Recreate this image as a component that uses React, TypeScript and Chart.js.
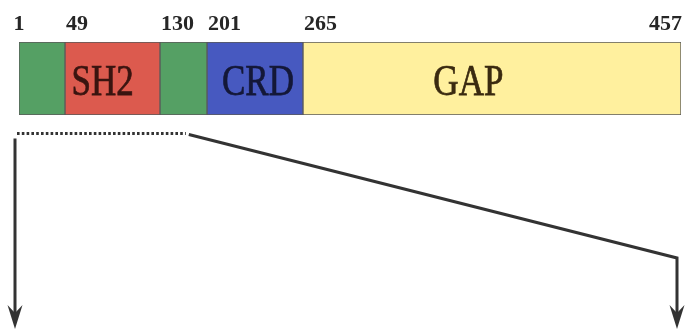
import React, { useEffect, useRef } from 'react';
import { Chart, registerables, LinearScale } from 'chart.js';

Chart.register(...registerables);

// ---- data ----
const residueBoundaries = [1, 49, 130, 201, 265, 457];
const tickLabels = ['1', '49', '130', '201', '265', '457'];
const domainNames = ['', 'SH2', '', 'CRD', 'GAP'];
const domainColors = ['#55a064', '#dc5a4e', '#55a064', '#4759c0', '#fff09e'];
const domainTextColors = ['#222', '#3a1410', '#222', '#141838', '#3a2a10'];
const domainLabelAt = [0, 81, 0, 235, 349];
const zoomRange = [1, 169];

// drawn (non-proportional) relative widths of each segment in the diagram
const segmentDrawWidths = [46, 95, 47, 96, 378];
const totalDraw = segmentDrawWidths.reduce((a, b) => a + b, 0);

const SERIF = '"Liberation Serif", "Times New Roman", Times, serif';

class PiecewiseScale extends LinearScale {
  static id = 'piecewise';
  static defaults = LinearScale.defaults;
  getPixelForValue(value: number) {
    const b = residueBoundaries;
    if (value <= b[0]) return this.getPixelForDecimal(0);
    let acc = 0;
    for (let i = 0; i < segmentDrawWidths.length; i++) {
      if (value <= b[i + 1]) {
        const f = (acc + ((value - b[i]) / (b[i + 1] - b[i])) * segmentDrawWidths[i]) / totalDraw;
        return this.getPixelForDecimal(f);
      }
      acc += segmentDrawWidths[i];
    }
    return this.getPixelForDecimal(1);
  }
  getValueForPixel(pixel: number) {
    const d = this.getDecimalForPixel(pixel) * totalDraw;
    let acc = 0;
    const b = residueBoundaries;
    for (let i = 0; i < segmentDrawWidths.length; i++) {
      if (d <= acc + segmentDrawWidths[i]) {
        return b[i] + ((d - acc) / segmentDrawWidths[i]) * (b[i + 1] - b[i]);
      }
      acc += segmentDrawWidths[i];
    }
    return b[b.length - 1];
  }
}
Chart.register(PiecewiseScale as any);

function arrowHead(ctx: CanvasRenderingContext2D, x: number, tipY: number) {
  ctx.beginPath();
  ctx.moveTo(x, tipY);
  ctx.lineTo(x - 7.5, tipY - 24);
  ctx.lineTo(x, tipY - 16);
  ctx.lineTo(x + 7.5, tipY - 24);
  ctx.closePath();
  ctx.fill();
}

const overlayPlugin = {
  id: 'overlay',
  afterDatasetsDraw(chart: any) {
    const ctx: CanvasRenderingContext2D = chart.ctx;
    const xs = chart.scales.x;
    const area = chart.chartArea;
    ctx.save();

    // residue labels
    ctx.font = 'bold 22px ' + SERIF;
    ctx.fillStyle = '#262626';
    ctx.textBaseline = 'alphabetic';
    residueBoundaries.forEach((r, i) => {
      const px = xs.getPixelForValue(r);
      const last = i === residueBoundaries.length - 1;
      ctx.textAlign = i === 0 ? 'center' : last ? 'right' : 'left';
      const dx = i === 0 ? 0 : 1;
      ctx.fillText(tickLabels[i], px + dx, area.top - 12);
    });

    // domain names (vertically stretched serif like the reference)
    ctx.font = '35px ' + SERIF;
    ctx.textAlign = 'center';
    domainNames.forEach((name, i) => {
      if (!name) return;
      const px = xs.getPixelForValue(domainLabelAt[i]);
      ctx.save();
      ctx.translate(px, area.top + 53);
      ctx.scale(1, 1.25);
      ctx.fillStyle = domainTextColors[i];
      ctx.strokeStyle = domainTextColors[i];
      ctx.lineWidth = 0.6;
      ctx.fillText(name, 0, 0);
      ctx.strokeText(name, 0, 0);
      ctx.restore();
    });

    // zoom indicator
    const x0 = xs.getPixelForValue(zoomRange[0]);
    const x1 = xs.getPixelForValue(zoomRange[1]);
    const yDot = area.bottom + 18.5;
    ctx.strokeStyle = '#333';
    ctx.fillStyle = '#333';
    ctx.lineWidth = 3;
    ctx.setLineDash([2.6, 2.2]);
    ctx.beginPath();
    ctx.moveTo(x0 - 2, yDot);
    ctx.lineTo(x1, yDot);
    ctx.stroke();
    ctx.setLineDash([]);

    const leftX = x0 - 4;
    const rightX = area.right - 4;
    const cornerY = 258;
    const tipY = 329;
    ctx.lineWidth = 3;
    ctx.beginPath();
    ctx.moveTo(x1 + 3, yDot + 1);
    ctx.lineTo(rightX, cornerY);
    ctx.lineTo(rightX, tipY - 14);
    ctx.stroke();
    ctx.beginPath();
    ctx.moveTo(leftX, yDot + 5);
    ctx.lineTo(leftX, tipY - 14);
    ctx.stroke();
    arrowHead(ctx, leftX, tipY);
    arrowHead(ctx, rightX, tipY);

    ctx.restore();
  },
};

export default function App() {
  const ref = useRef<HTMLCanvasElement | null>(null);
  useEffect(() => {
    if (!ref.current) return;
    let chart: Chart | null = null;
    let cancelled = false;
    const build = () => {
      if (cancelled || !ref.current) return;
      const datasets = domainColors.map((c, i) => ({
        label: domainNames[i] || 'linker',
        data: [[residueBoundaries[i], residueBoundaries[i + 1]]] as any,
        backgroundColor: c,
        borderColor: '#5a5a5a',
        borderWidth: 1,
        borderSkipped: false as any,
        grouped: false,
        barPercentage: 1,
        categoryPercentage: 1,
      }));
      chart = new Chart(ref.current, {
        type: 'bar',
        data: { labels: ['protein'], datasets },
        options: {
          indexAxis: 'y',
          animation: false,
          responsive: false,
          layout: { padding: { left: 19, right: 4, top: 42, bottom: 215 } },
          plugins: { legend: { display: false }, tooltip: { enabled: false } },
          scales: {
            x: { type: 'piecewise' as any, min: 1, max: 457, display: false },
            y: { display: false },
          },
        },
        plugins: [overlayPlugin],
      });
    };
    const fonts: any = (document as any).fonts;
    if (fonts && fonts.load) {
      Promise.all([
        fonts.load('35px "Liberation Serif"'),
        fonts.load('bold 22px "Liberation Serif"'),
      ])
        .catch(() => undefined)
        .then(build);
    } else {
      build();
    }
    return () => {
      cancelled = true;
      if (chart) chart.destroy();
    };
  }, []);
  return (
    <div style={{ position: 'absolute', left: 0, top: 0, width: 685, height: 330, background: '#fff' }}>
      <span style={{ position: 'absolute', visibility: 'hidden', fontFamily: 'Liberation Serif' }}>
        x<b>x</b>
      </span>
      <canvas ref={ref} width={685} height={330} />
    </div>
  );
}
